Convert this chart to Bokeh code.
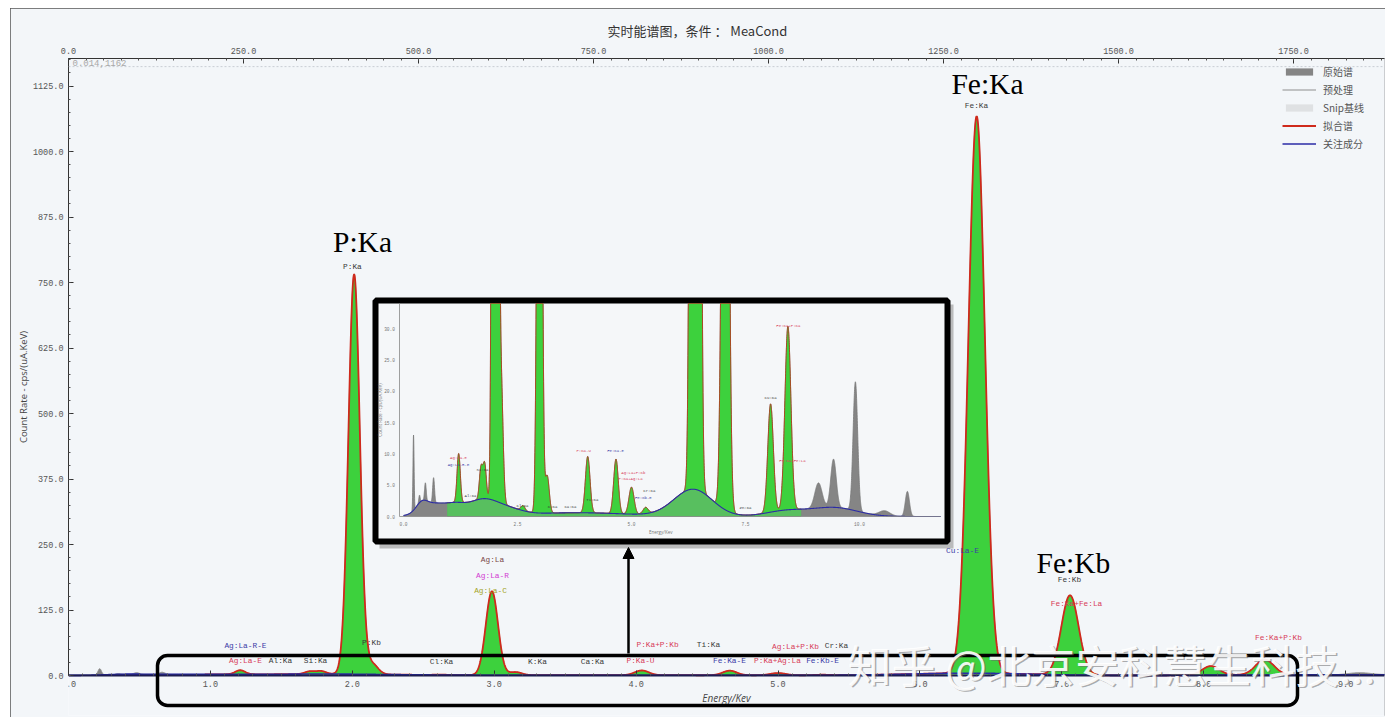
import numpy as np
from bokeh.plotting import figure
from bokeh.models import (Range1d, LinearAxis, SingleIntervalTicker, PrintfTickFormatter,
                          Legend, LegendItem, BoxAnnotation, Arrow, NormalHead, Label, Span)
from bokeh.core.properties import value
from bokeh.embed import file_html
from bokeh.resources import INLINE

# ---------------- data ----------------
# fitted peaks: energy (keV), height above continuum (cps), sigma (keV)
fit_names = ["Ag:La-E", "Si:Ka", "Ag:La-R-E", "P:Ka", "P:Kb", "Cl:Ka", "Ag:La", "Ag:Lb",
             "P:Ka-U", "Fe:Ka-E", "P:Ka+Ag:La", "Fe:Kb-E", "Fe:Ka", "Fe:Kb", "Cu:Ka", "Fe:Ka+P:Ka"]
fit_energy = [1.21, 1.70, 1.78, 2.013, 2.139, 2.62, 2.984, 3.15, 4.04, 4.66, 5.00, 5.31,
              6.400, 7.058, 8.05, 8.43]
fit_height = [7.8, 5.0, 5.5, 763.0, 20.0, 0.8, 160.0, 6.0, 9.0, 8.7, 4.3, 1.0,
              1063.0, 152.0, 17.3, 29.3]
fit_sigma = [0.035, 0.035, 0.035, 0.040, 0.042, 0.045, 0.043, 0.045, 0.05, 0.05, 0.055, 0.055,
             0.058, 0.061, 0.06, 0.065]

# continuum (SNIP baseline / 关注成分)
bg_energy = [0.40, 0.68, 1.15, 1.74, 2.35, 3.8, 6.35, 8.4, 9.45]
bg_height = [1.2, 2.0, 1.0, 2.6, 0.7, 0.6, 4.3, 0.9, 1.4]
bg_sigma = [0.12, 0.30, 0.20, 0.35, 0.30, 1.2, 0.42, 0.45, 0.5]

# peaks present only in the raw spectrum (not fitted)
raw_energy = [0.22, 0.35, 0.48, 0.66, 9.10, 9.43, 9.91, 10.55, 11.05]
raw_height = [12.0, 1.2, 2.8, 4.0, 4.0, 7.7, 20.6, 0.8, 4.0]
raw_sigma = [0.012, 0.015, 0.018, 0.02, 0.08, 0.06, 0.05, 0.12, 0.045]

fit_lo, fit_hi = 0.96, 8.72          # fitted energy window (keV)

# peak labels of the main view
lbl_text = ["Ag:La-R-E", "Ag:La-E", "Al:Ka", "Si:Ka", "P:Kb", "Cl:Ka", "K:Ka", "Ca:Ka",
            "P:Ka+P:Kb", "P:Ka-U", "Ti:Ka", "Fe:Ka-E", "Ag:La+P:Kb", "Cr:Ka", "P:Ka+Ag:La",
            "Fe:Kb-E", "P:Ka", "Ag:La", "Ag:La-R", "Ag:La-C", "Fe:Ka", "Cu:La-E", "Fe:Kb",
            "Fe:Ka+Fe:La", "Fe:Ka+P:Kb"]
lbl_e = [1.247, 1.247, 1.494, 1.741, 2.135, 2.629, 3.305, 3.693, 4.151, 4.031, 4.510, 4.658,
         5.123, 5.412, 4.996, 5.314, 2.001, 2.988, 2.988, 2.974, 6.399, 6.300, 7.054, 7.104, 8.527]
lbl_cps = [56.8, 28.2, 28.2, 28.2, 62.6, 26.3, 26.3, 26.3, 58.8, 28.2, 58.8, 28.2, 54.9, 56.8,
           28.2, 28.2, 780.1, 221.0, 190.4, 161.8, 1087.4, 238.1, 182.8, 137.0, 72.1]
lbl_group = ["b", "r", "k", "k", "k", "k", "k", "k", "r", "r", "k", "b", "r", "k", "r", "b",
             "k", "n", "m", "o", "k", "b", "k", "r", "r"]

big_text = ["P:Ka", "Fe:Ka", "Fe:Kb"]
big_e = [2.072, 6.476, 7.082]
big_cps = [827.5, 1129.5, 215.2]

# labels of the inset (low count view)
ilbl_text = ["Ag:La-E", "Ag:La-R-E", "Si:Ka", "Al:Ka", "Cl:Ka", "K:Ka", "Ca:Ka", "P:Ka-U",
             "Fe:Ka-E", "Ag:La+P:Kb", "P:Ka+Ag:La", "Cr:Ka", "Fe:Kb-E", "Ti:Ka", "Cu:Ka",
             "Fe:Ka+P:Ka", "Fe:Ka+Fe:La", "Zn:Ka"]
ilbl_e = [1.206, 1.206, 1.732, 1.469, 2.61, 3.27, 3.66, 3.95, 4.65, 5.04, 4.98, 5.39, 5.26,
          4.14, 8.05, 8.44, 8.53, 7.5]
ilbl_cps = [9.27, 8.15, 7.5, 3.35, 1.6, 1.44, 1.44, 10.5, 10.4, 7.0, 6.07, 4.15, 3.0, 2.56,
            19.0, 30.5, 8.9, 1.3]
ilbl_group = ["r", "b", "k", "k", "k", "k", "k", "r", "b", "r", "r", "k", "b", "k", "k",
              "r", "r", "k"]

inset_xticks = [0.0, 2.5, 5.0, 7.5, 10.0]
inset_yticks = [0, 5, 10, 15, 20, 25, 30]

legend_labels = ["原始谱", "预处理", "Snip基线", "拟合谱", "关注成分"]
title_text = "实时能谱图，条件 ： MeaCond"
cursor_text = "0.014,1162"
cursor_cps = 1162
watermark = "知乎 @北京安科慧生科技..."

# ---------------- styles / layout ----------------
GREEN, RED, GRAY, LGRAY, BLUE = "#3dd13d", "#cf2a1c", "#858585", "#c8c8c8", "#2b2ba6"
BG = "#f3f6f9"
GROUP_COLORS = {"k": "#3a3a3a", "b": "#3d3da8", "r": "#d8405a", "m": "#d23cd2",
                "o": "#a4a428", "n": "#7a4848"}
MONO = "Liberation Mono"
CJK = "Noto Sans CJK SC"

FIG_X, FIG_Y, W, H = 10, 8, 1375, 709            # figure box on the page
FR_L, FR_R, FR_T, FR_B = 68, 1384, 58, 715        # frame in page pixels
AX0 = 675                                         # page y of 0 cps
KEV_PX, CPS_PX = 141.9, 0.524                     # main scale
CH_PER_KEV = 202.71
# inset geometry (page pixels)
I_E0_PX, I_KEV_PX = 403.0, 45.6
I_Y0_PX, I_CPS_PX = 516.0, 6.26
I_LEFT_PX, I_RIGHT_PX, I_TOP_PX = 399.0, 940.0, 303.0

x_end = (FR_R - FR_L) / KEV_PX
y_start = -(FR_B - AX0) / CPS_PX
y_end = (AX0 - FR_T) / CPS_PX

# ---------------- curves ----------------
E = np.arange(0.0, 11.8, 0.002)


def gauss_sum(cs, hs, ss):
    out = np.zeros_like(E)
    for c, h, s in zip(cs, hs, ss):
        out += h * np.exp(-0.5 * ((E - c) / s) ** 2)
    return out


bg = gauss_sum(bg_energy, bg_height, bg_sigma)
pk_fit = gauss_sum(fit_energy, fit_height, fit_sigma)
pk_raw = gauss_sum(raw_energy, raw_height, raw_sigma)
raw = bg + pk_fit + pk_raw
m_fit = (E >= fit_lo) & (E <= fit_hi)
Ef, fitf, bgf = E[m_fit], (bg + pk_fit)[m_fit], bg[m_fit]

# ---------------- figure ----------------
p = figure(width=W, height=H, output_backend="svg", toolbar_location=None,
           x_range=Range1d(0, x_end), y_range=Range1d(y_start, y_end),
           min_border_left=FR_L - FIG_X, min_border_right=FIG_X + W - FR_R,
           min_border_top=FR_T - FIG_Y, min_border_bottom=FIG_Y + H - FR_B,
           background_fill_color=BG, border_fill_color=BG, outline_line_color=None,
           margin=(FIG_Y, 0, 0, FIG_X))
p.styles = {"outline": "1px solid #555555", "outline-offset": "-1px"}
p.grid.visible = False

p.extra_x_ranges = {
    "ch": Range1d(0, x_end * CH_PER_KEV),
    "px": Range1d(FR_L, FR_R),
    "ix": Range1d((FR_L - I_E0_PX) / I_KEV_PX, (FR_R - I_E0_PX) / I_KEV_PX),
}
p.extra_y_ranges = {
    "py": Range1d(FR_B, FR_T),
    "iy": Range1d((I_Y0_PX - FR_B) / I_CPS_PX, (I_Y0_PX - FR_T) / I_CPS_PX),
}

p.title.text = title_text
p.title.align = "left"
p.title.offset = 539
p.title.text_font = CJK
p.title.text_font_size = "13px"
p.title.text_font_style = "normal"
p.title.text_color = "#333333"

bottom_axis = p.below[0]
left_axis = p.left[0]
top_axis = LinearAxis(x_range_name="ch")
p.add_layout(top_axis, "above")
top_axis.ticker = SingleIntervalTicker(interval=250, num_minor_ticks=10)
bottom_axis.ticker = SingleIntervalTicker(interval=1, num_minor_ticks=10)
bottom_axis.fixed_location = 0
left_axis.ticker = SingleIntervalTicker(interval=125, num_minor_ticks=5)
left_axis.bounds = (0, y_end)
for ax in [bottom_axis, left_axis, top_axis]:
    ax.formatter = PrintfTickFormatter(format="%.1f")
    ax.major_label_text_font = MONO
    ax.major_label_text_font_size = "8.5px"
    ax.major_label_text_color = "#555555"
    ax.axis_line_color = "#333333"
    ax.major_tick_in = 5
    ax.major_tick_out = 0
    ax.minor_tick_in = 2
    ax.minor_tick_out = 0
    ax.major_tick_line_color = "#333333"
    ax.minor_tick_line_color = "#555555"
    ax.major_label_standoff = 5
bottom_axis.axis_line_color = "#1c1c50"
bottom_axis.axis_line_width = 2
left_axis.axis_label = "Count Rate - cps/(uA.KeV)"
left_axis.axis_label_text_font = "Open Sans"
left_axis.axis_label_text_font_size = "9.5px"
left_axis.axis_label_text_font_style = "normal"
left_axis.axis_label_text_color = "#444444"
left_axis.axis_label_standoff = 0
bottom_axis.axis_label = "Energy/Kev"
bottom_axis.axis_label_text_font = "Open Sans"
bottom_axis.axis_label_text_font_size = "10px"
bottom_axis.axis_label_text_font_style = "italic"
bottom_axis.axis_label_text_color = "#444444"
bottom_axis.axis_label_standoff = 1

p.add_layout(Span(location=cursor_cps, dimension="width", line_color="#c9ced4",
                  line_dash="2 2", line_width=1))

# ---------------- main spectrum ----------------
r_raw = p.varea(x=E, y1=0, y2=raw, fill_color=GRAY)
r_pre = p.line(E, raw, line_color="#8e8e8e", line_width=1)
p.varea(x=Ef, y1=0, y2=fitf, fill_color=GREEN)
r_snip = p.varea(x=Ef, y1=0, y2=bgf, fill_color=LGRAY, fill_alpha=0.45)
r_fit = p.line(Ef, fitf, line_color=RED, line_width=1.8)
r_blue = p.line(E, bg, line_color=BLUE, line_width=1.6)

p.text(x=lbl_e, y=lbl_cps, text=lbl_text, text_color=[GROUP_COLORS[g] for g in lbl_group],
       text_font=value(MONO), text_font_size=value("7.8px"), text_align="center",
       text_baseline="middle")
p.text(x=big_e, y=big_cps, text=big_text, text_color="black", text_font=value("Liberation Serif"),
       text_font_size=value("29.5px"), text_align="center", text_baseline="middle")

p.add_layout(Label(x=FR_L + 4, y=FR_T + 4, x_range_name="px", y_range_name="py", text=cursor_text,
                   text_font=MONO, text_font_size="9px", text_color="#a8a8a8",
                   text_align="left", text_baseline="middle"))

legend = Legend(items=[LegendItem(label=legend_labels[0], renderers=[r_raw]),
                       LegendItem(label=legend_labels[1], renderers=[r_pre]),
                       LegendItem(label=legend_labels[2], renderers=[r_snip]),
                       LegendItem(label=legend_labels[3], renderers=[r_fit]),
                       LegendItem(label=legend_labels[4], renderers=[r_blue])],
                location=(1282 - FR_L, FR_B - 151),
                label_text_font=CJK, label_text_font_size="10px", label_text_color="#555555",
                glyph_width=34, glyph_height=9, label_height=10, label_standoff=7, spacing=3,
                padding=0, margin=0, background_fill_alpha=0, border_line_color=None)
p.add_layout(legend)

# ---------------- inset ----------------
p.add_layout(BoxAnnotation(left=379, right=953, top=304, bottom=548, x_range_name="px",
                           y_range_name="py", fill_color="#8a8a8a", fill_alpha=0.55,
                           line_color=None))
p.add_layout(BoxAnnotation(left=375, right=947, top=300, bottom=541, x_range_name="px",
                           y_range_name="py", fill_color="#f5f7f9", fill_alpha=1.0,
                           line_color="black", line_alpha=1.0, line_width=6))

i_emax = (I_RIGHT_PX - I_E0_PX) / I_KEV_PX
i_emin = (I_LEFT_PX - I_E0_PX) / I_KEV_PX
i_ymax = (I_Y0_PX - I_TOP_PX) / I_CPS_PX
mi = E <= i_emax
mif = Ef <= i_emax
IK = dict(x_range_name="ix", y_range_name="iy", level="overlay")
p.varea(x=E[mi], y1=0, y2=np.minimum(raw[mi], i_ymax), fill_color=GRAY, **IK)
p.line(E[mi], np.minimum(raw[mi], i_ymax), line_color="#777777", line_width=0.8, **IK)
p.varea(x=Ef[mif], y1=0, y2=np.minimum(fitf[mif], i_ymax), fill_color=GREEN, **IK)
p.varea(x=Ef[mif], y1=0, y2=np.minimum(bgf[mif], i_ymax), fill_color="#7aa88a", fill_alpha=0.45, **IK)
p.line(Ef[mif], np.minimum(fitf[mif], i_ymax), line_color="#b0401c", line_width=0.9, **IK)
p.line(E[mi], np.minimum(bg[mi], i_ymax), line_color=BLUE, line_width=1.1, **IK)
p.line(x=[i_emin, i_emin], y=[0, i_ymax], line_color="#888888", line_width=0.8, **IK)
p.line(x=[i_emin, i_emax], y=[0, 0], line_color="#888888", line_width=0.8, **IK)
p.text(x=inset_xticks, y=[-0.8] * len(inset_xticks), text=["%.1f" % v for v in inset_xticks],
       text_font=value(MONO), text_font_size=value("4.5px"), text_color="#777777",
       text_align="center", text_baseline="top", **IK)
p.text(x=[i_emin - 0.1] * len(inset_yticks), y=inset_yticks,
       text=["%.1f" % v for v in inset_yticks], text_font=value(MONO),
       text_font_size=value("4.5px"), text_color="#777777", text_align="right",
       text_baseline="middle", **IK)
p.text(x=[i_emin - 0.42], y=[17.0], text=["Count Rate - cps/(uA.KeV)"], angle=np.pi / 2,
       text_font=value("Open Sans"), text_font_size=value("4.5px"), text_color="#777777",
       text_align="center", text_baseline="middle", **IK)
p.text(x=[5.64], y=[-2.0], text=["Energy/Kev"], text_font=value("Open Sans"),
       text_font_size=value("4.5px"), text_color="#777777", text_align="center",
       text_baseline="top", **IK)
p.text(x=ilbl_e, y=ilbl_cps, text=ilbl_text, text_color=[GROUP_COLORS[g] for g in ilbl_group],
       text_font=value(MONO), text_font_size=value("4px"), text_align="center",
       text_baseline="middle", **IK)

# ---------------- annotations ----------------
p.add_layout(BoxAnnotation(left=157, right=1297, top=655, bottom=705, x_range_name="px",
                           y_range_name="py", fill_alpha=0, line_color="black", line_alpha=1.0,
                           line_width=3.5, border_radius=10))
p.add_layout(Arrow(end=NormalHead(size=11, fill_color="black", line_color="black"),
                   x_start=628, y_start=653, x_end=628, y_end=547, x_range_name="px",
                   y_range_name="py", line_width=2.5, line_color="black"))
for dx, dy, col, a in [(1.5, -1.5, "#6a6a6a", 0.55), (0, 0, "white", 0.92)]:
    p.add_layout(Label(x=1111, y=663, x_offset=dx, y_offset=dy, x_range_name="px",
                       y_range_name="py", text=watermark, text_font=CJK, text_font_size="44px",
                       text_color=col, text_alpha=a, text_align="center",
                       text_baseline="middle"))

open("out.html", "w").write(file_html(p, INLINE))
